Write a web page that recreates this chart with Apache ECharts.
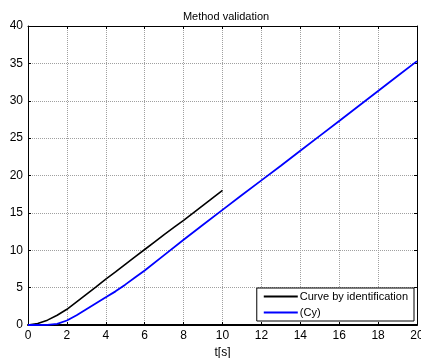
<!DOCTYPE html>
<html>
<head>
<meta charset="utf-8">
<script src="https://cdn.jsdelivr.net/npm/echarts@6/dist/echarts.min.js"></script>
<style>
  html, body { margin: 0; padding: 0; background: #fff; }
  #main { width: 421px; height: 358px; }
</style>
</head>
<body>
<div id="main"></div>
<script>
// black curve: identification result (0..10 s)
var tIdent = [0, 0.5, 1, 1.5, 2, 2.5, 3, 3.5, 4, 4.5, 5, 5.5, 6, 6.5, 7, 7.5, 8, 8.5, 9, 9.5, 10];
var vIdent = [0, 0.2, 0.65, 1.3, 2.1, 3.1, 4.1, 5.1, 6.15, 7.1, 8.1, 9.1, 10.1, 11.1, 12.1, 13.05, 14, 15, 16, 17, 18];
// blue curve: (Cy) (0..20 s)
var tCy = [0, 0.5, 1, 1.5, 2, 2.5, 3, 3.5, 4, 4.5, 5, 5.5, 6, 7, 8, 9, 10, 11, 12, 13, 14, 15, 16, 17, 18, 19, 20];
var vCy = [0, 0, 0.02, 0.15, 0.6, 1.3, 2.1, 2.9, 3.7, 4.5, 5.4, 6.35, 7.3, 9.35, 11.4, 13.4, 15.4, 17.4, 19.35, 21.3, 23.3, 25.3, 27.3, 29.3, 31.3, 33.3, 35.3];
var seriesNames = ["Curve by identification", "(Cy)"];

function pairs(xs, ys) {
  return xs.map(function (x, i) { return [x, ys[i]]; });
}

var chart = echarts.init(document.getElementById("main"));
var font = "Liberation Sans, Arial, sans-serif";
var gridLine = { show: true, lineStyle: { color: "#a0a0a0", type: [1, 1], width: 1 } };
var frame = { show: true, onZero: false, lineStyle: { color: "#000", width: 1 } };
var tick = { show: true, inside: true, length: 3, lineStyle: { color: "#000" } };

var option = {
  animation: false,
  backgroundColor: "#fff",
  title: {
    text: "Method validation",
    left: 221,
    textAlign: "center",
    top: 6,
    textStyle: { fontFamily: font, fontSize: 11, fontWeight: "normal", color: "#000" }
  },
  grid: { left: 28, right: 4, top: 26, bottom: 33, outerBoundsMode: "none", containLabel: false },
  legend: {
    data: seriesNames,
    orient: "vertical",
    right: 7,
    bottom: 37,
    padding: [3, 6, 3, 7],
    itemGap: 5,
    itemWidth: 34,
    itemHeight: 2,
    icon: "rect",
    backgroundColor: "#fff",
    borderColor: "#000",
    borderWidth: 1,
    borderRadius: 0,
    textStyle: { fontFamily: font, fontSize: 11, color: "#000", padding: [0, 0, 0, -3] }
  },
  xAxis: [
    {
      type: "value",
      min: 0, max: 20, interval: 2,
      name: "t[s]",
      nameLocation: "middle",
      nameGap: 19,
      nameTextStyle: { fontFamily: font, fontSize: 12, color: "#000" },
      axisLine: { show: true, onZero: false, lineStyle: { color: "#000", width: 2 } },
      axisTick: tick,
      axisLabel: { fontFamily: font, fontSize: 12, color: "#000", margin: 5 },
      splitLine: gridLine
    },
    {
      type: "value", position: "top",
      min: 0, max: 20, interval: 2,
      axisLine: frame, axisTick: tick,
      axisLabel: { show: false }, splitLine: { show: false }
    }
  ],
  yAxis: [
    {
      type: "value",
      min: 0, max: 40, interval: 5,
      axisLine: frame,
      axisTick: tick,
      axisLabel: { fontFamily: font, fontSize: 12, color: "#000", margin: 5 },
      splitLine: gridLine
    },
    {
      type: "value", position: "right",
      min: 0, max: 40, interval: 5,
      axisLine: frame, axisTick: tick,
      axisLabel: { show: false }, splitLine: { show: false }
    }
  ],
  series: [
    {
      name: seriesNames[0],
      type: "line",
      data: pairs(tIdent, vIdent),
      showSymbol: false,
      lineStyle: { color: "#000", width: 1.6 },
      itemStyle: { color: "#000" },
      z: 3
    },
    {
      name: seriesNames[1],
      type: "line",
      data: pairs(tCy, vCy),
      showSymbol: false,
      lineStyle: { color: "#0000ff", width: 1.8 },
      itemStyle: { color: "#0000ff" },
      z: 3
    }
  ]
};
chart.setOption(option);
</script>
</body>
</html>
